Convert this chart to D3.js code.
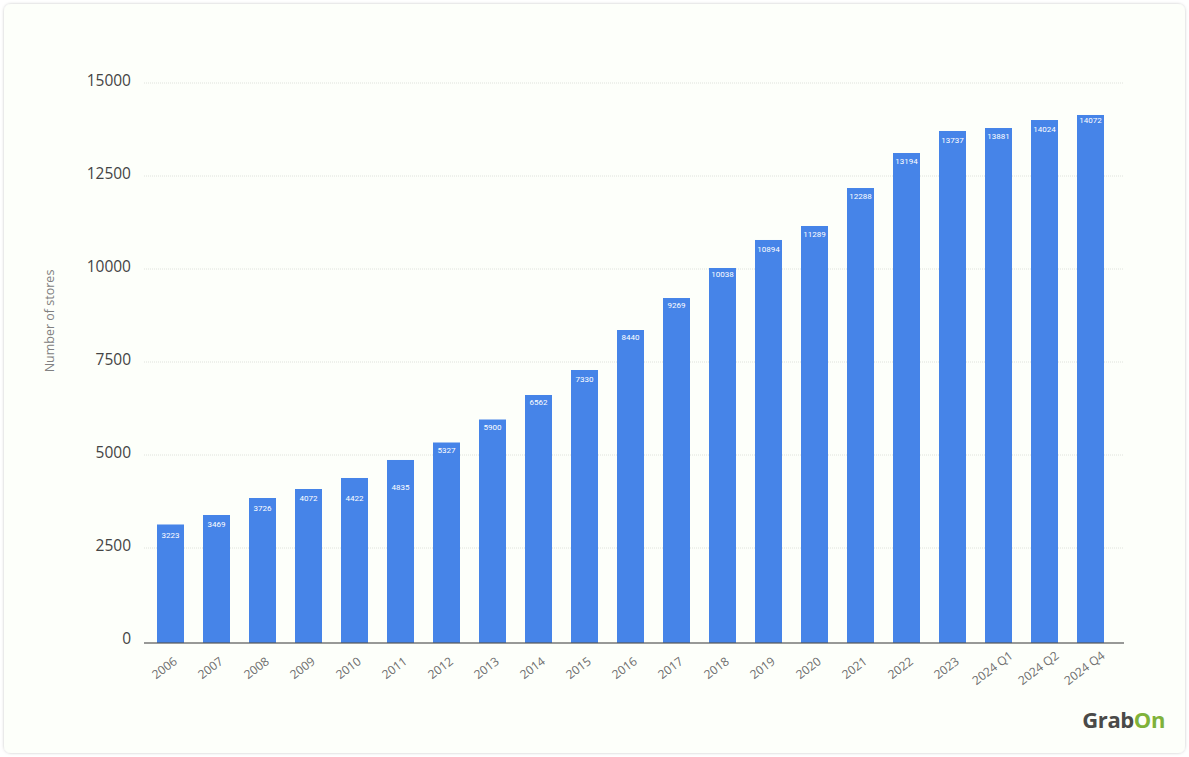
<!DOCTYPE html>
<html>
<head>
    <title>Number of stores</title>
    <script src="https://d3js.org/d3.v7.min.js"></script>
    <style>
        html, body { margin: 0; padding: 0; background: #ffffff; }
        svg { display: block; }
    </style>
</head>
<body>
    <script>
        var periods = ["2006", "2007", "2008", "2009", "2010", "2011", "2012", "2013", "2014", "2015", "2016", "2017", "2018", "2019", "2020", "2021", "2022", "2023", "2024 Q1", "2024 Q2", "2024 Q4"];
        // the printed labels and the drawn bars disagree a little in the source, so each is read on its own
        var storeLabels = [3223, 3469, 3726, 4072, 4422, 4835, 5327, 5900, 6562, 7330, 8440, 9269, 10038, 10894, 11289, 12288, 13194, 13737, 13881, 14024, 14072];
        var barHeights = [3132, 3387, 3844, 4086, 4382, 4866, 5336, 5954, 6613, 7285, 8360, 9220, 10027, 10780, 11156, 12177, 13118, 13710, 13790, 14005, 14140];
        // level on the y axis where each label sits, not evenly below the bar tops
        var labelLevels = [2849, 3145, 3575, 3844, 3844, 4121, 5116, 5753, 6417, 7043, 8164, 9040, 9858, 10530, 10941, 11955, 12885, 13468, 13575, 13745, 14005];
        var yTicks = [0, 2500, 5000, 7500, 10000, 12500, 15000];

        var width = 1189, height = 757;
        var font = "'Open Sans', sans-serif";

        var svg = d3.select("body")
            .append("svg")
            .attr("width", width)
            .attr("height", height);

        var defs = svg.append("defs");
        var shadow = defs.append("filter").attr("id", "cardShadow")
            .attr("x", "-2%").attr("y", "-2%").attr("width", "104%").attr("height", "104%");
        shadow.append("feDropShadow")
            .attr("dx", 0).attr("dy", 0).attr("stdDeviation", 1.5)
            .attr("flood-color", "#000").attr("flood-opacity", 0.22);

        // card behind the chart
        svg.append("rect")
            .attr("x", 4).attr("y", 4)
            .attr("width", 1181).attr("height", 749)
            .attr("rx", 7)
            .attr("fill", "#fdfffa")
            .attr("filter", "url(#cardShadow)");

        var x = d3.scaleBand()
            .domain(periods)
            .range([147.5, 1113.5])
            .paddingInner(0.413)
            .paddingOuter(0.2065);

        var y = d3.scaleLinear()
            .domain([0, 15000])
            .range([641, 83]);

        // the baseline and the bar feet sit 2px under the zero of the grid
        var baseY = y(0) + 2;

        svg.append("g").selectAll("line")
            .data(yTicks.filter(function(d) { return d > 0; }))
            .enter().append("line")
            .attr("x1", 144).attr("x2", 1124)
            .attr("y1", function(d) { return y(d); })
            .attr("y2", function(d) { return y(d); })
            .attr("stroke", "#dfe2dc")
            .attr("stroke-width", 1)
            .attr("stroke-dasharray", "1 1");

        var yAxis = d3.axisLeft(y).tickValues(yTicks).tickSize(0).tickPadding(0).tickFormat(d3.format("d"));
        var yGroup = svg.append("g").attr("transform", "translate(131,-2)").call(yAxis);
        yGroup.select(".domain").remove();
        yGroup.selectAll("text")
            .attr("font-family", font)
            .attr("font-size", 15.5)
            .attr("fill", "#444444");

        svg.append("text")
            .attr("transform", "translate(54,321) rotate(-90)")
            .attr("text-anchor", "middle")
            .attr("font-family", font)
            .attr("font-size", 12.5)
            .attr("fill", "#808080")
            .text("Number of stores");

        svg.append("g").selectAll("rect")
            .data(periods)
            .enter().append("rect")
            .attr("x", function(d) { return x(d); })
            .attr("width", x.bandwidth())
            .attr("y", function(d, i) { return y(barHeights[i]); })
            .attr("height", function(d, i) { return baseY - y(barHeights[i]); })
            .attr("fill", "#4684e8");

        svg.append("g").selectAll("text")
            .data(periods)
            .enter().append("text")
            .attr("x", function(d) { return x(d) + x.bandwidth() / 2; })
            .attr("y", function(d, i) { return y(labelLevels[i]); })
            .attr("dy", "0.35em")
            .attr("text-anchor", "middle")
            .attr("font-family", "Roboto, sans-serif")
            .attr("font-size", 8)
            .attr("fill", "#ffffff")
            .text(function(d, i) { return storeLabels[i]; });

        svg.append("line")
            .attr("x1", 144).attr("x2", 1124)
            .attr("y1", baseY).attr("y2", baseY)
            .attr("stroke", "#555555")
            .attr("stroke-opacity", 0.8)
            .attr("stroke-width", 1.5);

        var xAxis = d3.axisBottom(x).tickSize(0).tickPadding(0);
        var xGroup = svg.append("g").attr("transform", "translate(0," + baseY + ")").call(xAxis);
        xGroup.select(".domain").remove();
        xGroup.selectAll("text")
            .attr("font-family", font)
            .attr("font-size", 12)
            .attr("fill", "#6e6e6e")
            .attr("text-anchor", "middle")
            .attr("y", 0)
            .attr("dy", "0.35em")
            .attr("transform", "translate(-6,25) rotate(-37)");

        // logo wordmark
        var logo = svg.append("text")
            .attr("x", 1165).attr("y", 727.5)
            .attr("text-anchor", "end")
            .attr("font-family", font)
            .attr("font-weight", 700)
            .attr("font-size", 22)
            .attr("letter-spacing", -0.4);
        logo.append("tspan").attr("fill", "#4a4a48").text("Grab");
        logo.append("tspan").attr("fill", "#7fb23a").text("On");
    </script>
</body>
</html>
